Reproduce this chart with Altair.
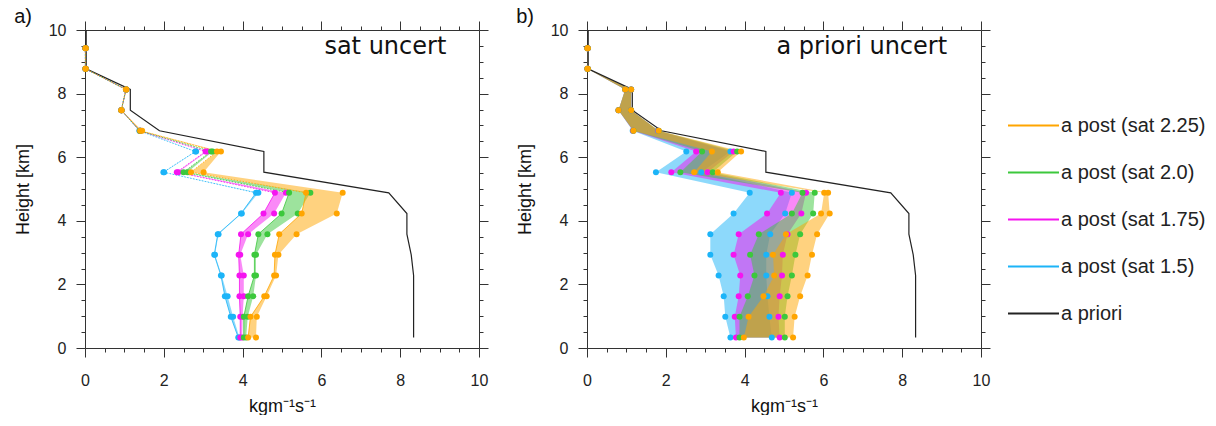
import altair as alt
import pandas as pd

# ---------------- data ----------------
H = [0.33, 0.98, 1.63, 2.28, 2.93, 3.58, 4.23, 4.88, 5.53, 6.18, 6.83, 7.48, 8.13, 8.78, 9.43]
AP_H = H + [10.0]
A_PRIORI = [8.34, 8.34, 8.34, 8.34, 8.28, 8.17, 8.17, 7.71, 4.54, 4.54, 1.89, 1.15, 1.15, 0.03, 0.03, 0.03]

# panel a (sat uncert): lower / upper bound per level
A_CYAN_LO = [3.89, 3.70, 3.55, 3.45, 3.28, 3.37, 3.96, 4.34, 1.99, 2.80, 1.38, 0.92, 1.04, 0.01, 0.01]
A_CYAN_HI = [3.92, 3.76, 3.62, 3.47, 3.30, 3.39, 3.98, 4.40, 2.01, 2.82, 1.40, 0.93, 1.05, 0.02, 0.02]
A_MAG_LO = [3.94, 3.94, 3.92, 3.92, 3.90, 3.96, 4.53, 4.82, 2.33, 3.06, 1.39, 0.92, 1.04, 0.01, 0.01]
A_MAG_HI = [3.99, 4.00, 4.03, 4.03, 3.94, 4.14, 4.80, 5.10, 2.37, 3.10, 1.41, 0.93, 1.05, 0.02, 0.02]
A_GRN_LO = [4.03, 4.03, 4.14, 4.30, 4.30, 4.40, 4.99, 5.18, 2.50, 3.20, 1.39, 0.92, 1.04, 0.01, 0.01]
A_GRN_HI = [4.09, 4.13, 4.27, 4.34, 4.34, 4.63, 5.40, 5.72, 2.60, 3.24, 1.41, 0.93, 1.05, 0.02, 0.02]
A_ORG_LO = [4.14, 4.20, 4.55, 4.80, 4.82, 4.93, 5.50, 5.61, 2.69, 3.35, 1.40, 0.92, 1.04, 0.01, 0.01]
A_ORG_HI = [4.34, 4.36, 4.61, 4.85, 4.91, 5.37, 6.39, 6.54, 3.01, 3.45, 1.45, 0.93, 1.05, 0.02, 0.02]

# panel b (a priori uncert)
B_CYAN_LO = [3.64, 3.51, 3.47, 3.34, 3.13, 3.13, 3.72, 4.13, 1.75, 2.52, 1.16, 0.80, 0.97, 0.01, 0.01]
B_CYAN_HI = [4.69, 4.63, 4.58, 4.55, 4.55, 4.65, 5.03, 5.20, 2.90, 3.64, 1.80, 1.12, 1.12, 0.02, 0.02]
B_MAG_LO = [3.78, 3.75, 3.85, 3.89, 3.72, 3.85, 4.57, 4.92, 2.14, 2.77, 1.17, 0.80, 0.97, 0.01, 0.01]
B_MAG_HI = [4.89, 4.86, 4.89, 4.95, 4.97, 5.09, 5.44, 5.56, 3.06, 3.72, 1.81, 1.12, 1.12, 0.02, 0.02]
B_GRN_LO = [3.87, 3.87, 4.08, 4.25, 4.14, 4.36, 5.20, 5.47, 2.37, 2.92, 1.18, 0.80, 0.97, 0.01, 0.01]
B_GRN_HI = [5.02, 5.02, 5.09, 5.20, 5.29, 5.41, 5.74, 5.78, 3.19, 3.81, 1.82, 1.12, 1.12, 0.02, 0.02]
B_ORG_LO = [3.98, 4.10, 4.48, 4.75, 4.72, 5.05, 5.94, 6.02, 2.72, 3.17, 1.18, 0.80, 0.97, 0.01, 0.01]
B_ORG_HI = [5.23, 5.27, 5.41, 5.60, 5.71, 5.84, 6.16, 6.12, 3.32, 3.91, 1.82, 1.12, 1.12, 0.02, 0.02]

SERIES = ["a post (sat 1.5)", "a post (sat 1.75)", "a post (sat 2.0)", "a post (sat 2.25)"]
LEGEND_ORDER = ["a post (sat 2.25)", "a post (sat 2.0)", "a post (sat 1.75)", "a post (sat 1.5)", "a priori"]
COLORS = ["#FFA500", "#3CC83C", "#F514F0", "#1CB4F8", "#222222"]

PANEL_TEXT = {"a": "sat uncert", "b": "a priori uncert"}
TEXT_X = {"a": 9.17, "b": 9.14}
TEXT_Y = 9.25
X_TITLE = "kgm\u207b\u00b9s\u207b\u00b9"
Y_TITLE = "Height [km]"
TICKS = [i * 0.5 for i in range(21)]

PANELS = {
    "a": [(A_CYAN_LO, A_CYAN_HI), (A_MAG_LO, A_MAG_HI), (A_GRN_LO, A_GRN_HI), (A_ORG_LO, A_ORG_HI)],
    "b": [(B_CYAN_LO, B_CYAN_HI), (B_MAG_LO, B_MAG_HI), (B_GRN_LO, B_GRN_HI), (B_ORG_LO, B_ORG_HI)],
}

W, HGT = 394, 318
FONT = "Liberation Sans"

xs = alt.Scale(domain=[0, 10], nice=False, zero=False)
ys = alt.Scale(domain=[0, 10], nice=False, zero=False)
cscale = alt.Scale(domain=LEGEND_ORDER, range=COLORS)

tick_size = {"condition": {"test": "datum.value % 2 === 0", "value": 9}, "value": 4}
label_expr = "datum.value % 2 === 0 ? format(datum.value, 'd') : ''"
axis_common = dict(values=TICKS, tickSize=tick_size, grid=False, domainColor="#333333",
                   tickColor="#333333", labelOverlap=False, labelFlush=False)

LEGEND = alt.Legend(orient="right", offset=16, title=" ", titleFontSize=20, titlePadding=49,
                    symbolType="stroke", symbolSize=2601, symbolStrokeWidth=1.8, symbolOpacity=1,
                    labelFontSize=20, labelFont=FONT, labelColor="#222",
                    labelOffset=1, rowPadding=10, padding=0)


def panel(key):
    rows, pts = [], []
    for s, (lo, hi) in zip(SERIES, PANELS[key]):
        for h, a, b in zip(H, lo, hi):
            rows.append({"series": s, "h": h, "lo": a, "hi": b})
            pts.append({"series": s, "h": h, "x": a})
            pts.append({"series": s, "h": h, "x": b})
    bands = pd.DataFrame(rows)
    points = pd.DataFrame(pts)
    ap = pd.DataFrame({"series": "a priori", "h": AP_H, "x": A_PRIORI})
    txt = pd.DataFrame({"x": [TEXT_X[key]], "y": [TEXT_Y], "t": [PANEL_TEXT[key]]})

    # a priori line: carries the top/right axes and the shared legend
    frame_layer = alt.Chart(ap).mark_line(strokeWidth=1.2).encode(
        y=alt.Y("h:Q", scale=ys, axis=alt.Axis(orient="right", labels=False, title="", **axis_common)),
        x=alt.X("x:Q", scale=xs, axis=alt.Axis(orient="top", labels=False, title="", **axis_common)),
        order="h:Q",
        color=alt.Color("series:N", scale=cscale, legend=LEGEND),
    )

    band_layer = alt.Chart(bands).mark_area(orient="horizontal", fillOpacity=0.5).encode(
        y=alt.Y("h:Q", scale=ys, axis=alt.Axis(orient="left", title=Y_TITLE, labelExpr=label_expr,
                                               labelFontSize=16, titleFontSize=18, labelPadding=10,
                                               titlePadding=16, labelFont=FONT, titleFont=FONT,
                                               titleFontWeight="normal", labelColor="#222",
                                               titleColor="#111", **axis_common)),
        x=alt.X("lo:Q", scale=xs, axis=alt.Axis(orient="bottom", title=X_TITLE, labelExpr=label_expr,
                                                labelFontSize=16, titleFontSize=18, labelPadding=15,
                                                titlePadding=9, labelFont=FONT, titleFont=FONT,
                                                titleFontWeight="normal", labelColor="#222",
                                                titleColor="#111", **axis_common)),
        x2="hi:Q",
        color=alt.Color("series:N", scale=cscale),
    )

    layers = [band_layer, frame_layer]

    if key == "a":
        lo_pts = points.iloc[::2]
        low = alt.Chart(lo_pts).transform_filter("datum.h <= 4.9").mark_line(
            strokeWidth=1, strokeOpacity=0.8).encode(
            y=alt.Y("h:Q", scale=ys, axis=None), x=alt.X("x:Q", scale=xs, axis=None),
            order="h:Q", color=alt.Color("series:N", scale=cscale))
        up = alt.Chart(lo_pts).transform_filter("datum.h >= 4.8").mark_line(
            strokeWidth=1, strokeOpacity=0.8, strokeDash=[1.5, 1.5]).encode(
            y=alt.Y("h:Q", scale=ys, axis=None), x=alt.X("x:Q", scale=xs, axis=None),
            order="h:Q", color=alt.Color("series:N", scale=cscale))
        layers += [low, up]

    point_layer = alt.Chart(points).mark_circle(size=36, opacity=1).encode(
        y=alt.Y("h:Q", scale=ys, axis=None),
        x=alt.X("x:Q", scale=xs, axis=None),
        color=alt.Color("series:N", scale=cscale),
    )
    text_layer = alt.Chart(txt).mark_text(align="right", baseline="alphabetic", font="DejaVu Sans",
                                          fontSize=24, color="#111").encode(
        x=alt.X("x:Q", scale=xs, axis=None), y=alt.Y("y:Q", scale=ys, axis=None), text="t:N")
    layers += [point_layer, text_layer]

    return alt.layer(*layers).resolve_axis(x="independent", y="independent").properties(
        width=W, height=HGT,
        title=alt.TitleParams(key + ")", anchor="start", fontSize=20, font=FONT, fontWeight="normal",
                              color="#111", offset=-6),
    )


chart = alt.hconcat(panel("a"), panel("b"), spacing=27).properties(
    padding={"left": 14, "top": 6, "right": 0, "bottom": 0}
).configure_view(stroke=None)

chart.save("out.html", embed_options={"renderer": "svg", "actions": False})
